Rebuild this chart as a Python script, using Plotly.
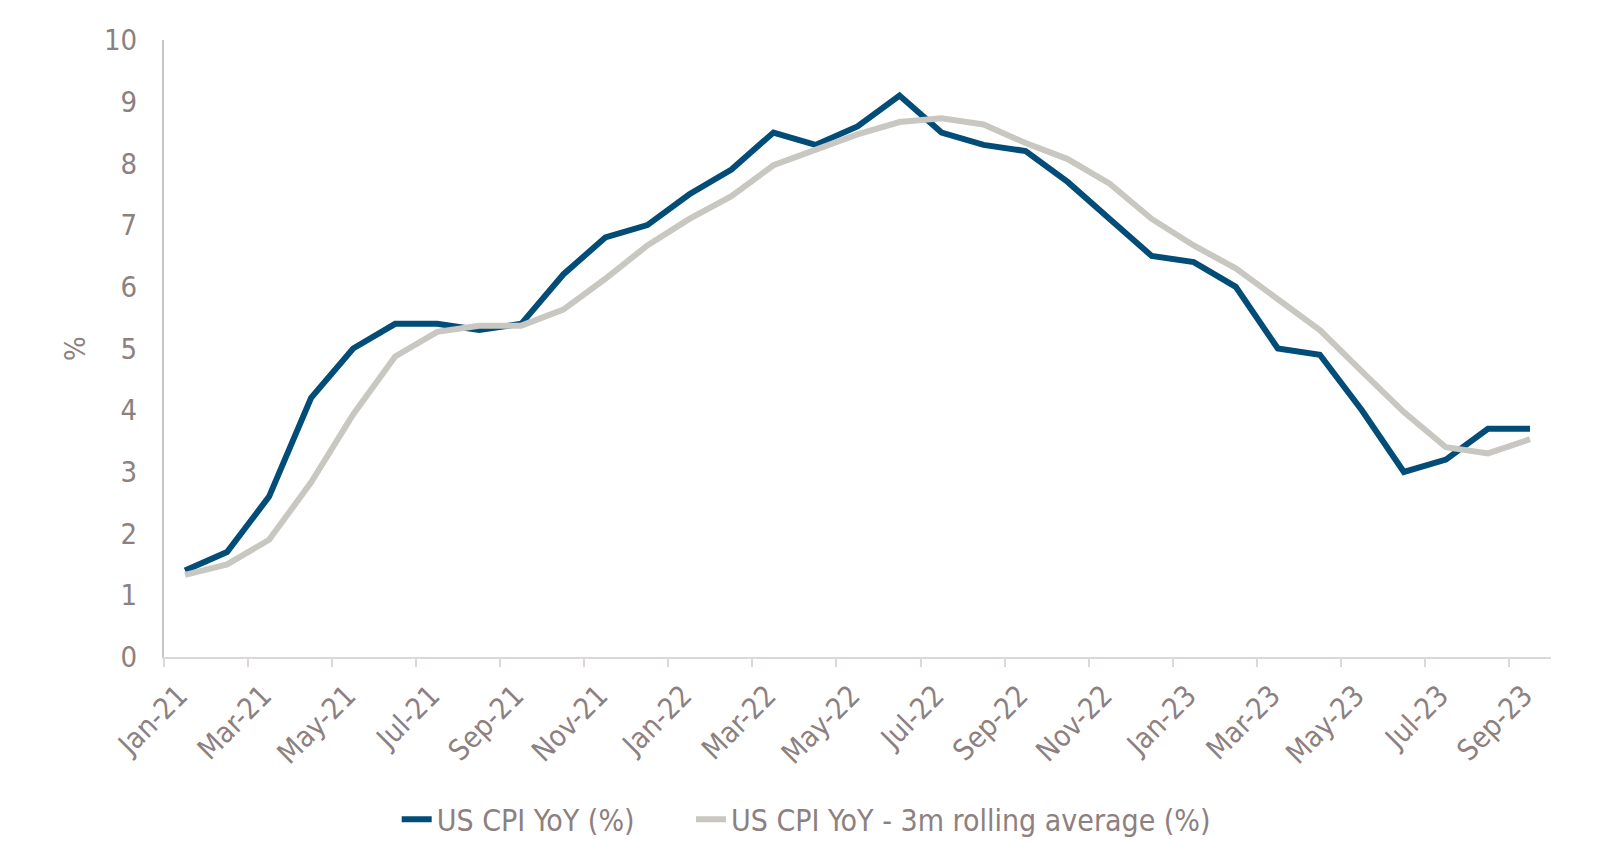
import plotly.graph_objects as go

months = ["Jan-21","Feb-21","Mar-21","Apr-21","May-21","Jun-21","Jul-21","Aug-21","Sep-21","Oct-21","Nov-21","Dec-21",
          "Jan-22","Feb-22","Mar-22","Apr-22","May-22","Jun-22","Jul-22","Aug-22","Sep-22","Oct-22","Nov-22","Dec-22",
          "Jan-23","Feb-23","Mar-23","Apr-23","May-23","Jun-23","Jul-23","Aug-23","Sep-23"]
cpi_yoy = [1.4,1.7,2.6,4.2,5.0,5.4,5.4,5.3,5.4,6.2,6.8,7.0,
           7.5,7.9,8.5,8.3,8.6,9.1,8.5,8.3,8.2,7.7,7.1,6.5,
           6.4,6.0,5.0,4.9,4.0,3.0,3.2,3.7,3.7]
cpi_3m = [1.33,1.5,1.9,2.83,3.93,4.87,5.27,5.37,5.37,5.63,6.13,6.67,
          7.1,7.47,7.97,8.23,8.47,8.67,8.73,8.63,8.33,8.07,7.67,7.1,
          6.67,6.3,5.8,5.3,4.63,3.97,3.4,3.3,3.53]
y_ticks = [0,1,2,3,4,5,6,7,8,9,10]

xi = list(range(len(months)))
tick_pos = [i - 0.5 for i in xi if i % 2 == 0]
tick_txt = [months[i] for i in xi if i % 2 == 0]

FONT = "DejaVu Sans Condensed"
TXT = "#8c8080"
PAD = "\u00a0" * 6

fig = go.Figure()
fig.add_trace(go.Scatter(x=xi, y=cpi_yoy, mode="lines", name="US CPI YoY (%)" + PAD,
                         line=dict(color="#014d78", width=6)))
fig.add_trace(go.Scatter(x=xi, y=cpi_3m, mode="lines", name="US CPI YoY - 3m rolling average (%)",
                         line=dict(color="#c9c7c1", width=6)))

fig.update_layout(
    width=1600, height=863,
    margin=dict(l=156, r=57, t=32, b=214),
    plot_bgcolor="white", paper_bgcolor="white",
    font=dict(family=FONT, size=28, color=TXT),
    legend=dict(orientation="h", x=0.463, xanchor="center", y=-0.263, yanchor="middle",
                font=dict(size=30, color=TXT), traceorder="normal"),
    showlegend=True,
)
fig.update_xaxes(range=[-0.5, len(months) - 0.5], tickvals=tick_pos, ticktext=tick_txt,
                 tickangle=-45, showgrid=False, zeroline=False,
                 showline=True, linecolor="#dcd8d8", linewidth=2,
                 ticks="outside", ticklen=8, tickcolor="#dcd8d8", tickwidth=2,
                 ticklabelshift=15,
                 tickfont=dict(size=29, color=TXT))
fig.update_yaxes(range=[0, 10], tickvals=y_ticks, showgrid=False, zeroline=False,
                 showline=True, linecolor="#c8c6c2", linewidth=2,
                 ticks="", ticklabelstandoff=19, tickfont=dict(size=29, color=TXT),
                 title=dict(text="%", font=dict(size=29, color=TXT), standoff=10))

fig.write_html("out.html")
